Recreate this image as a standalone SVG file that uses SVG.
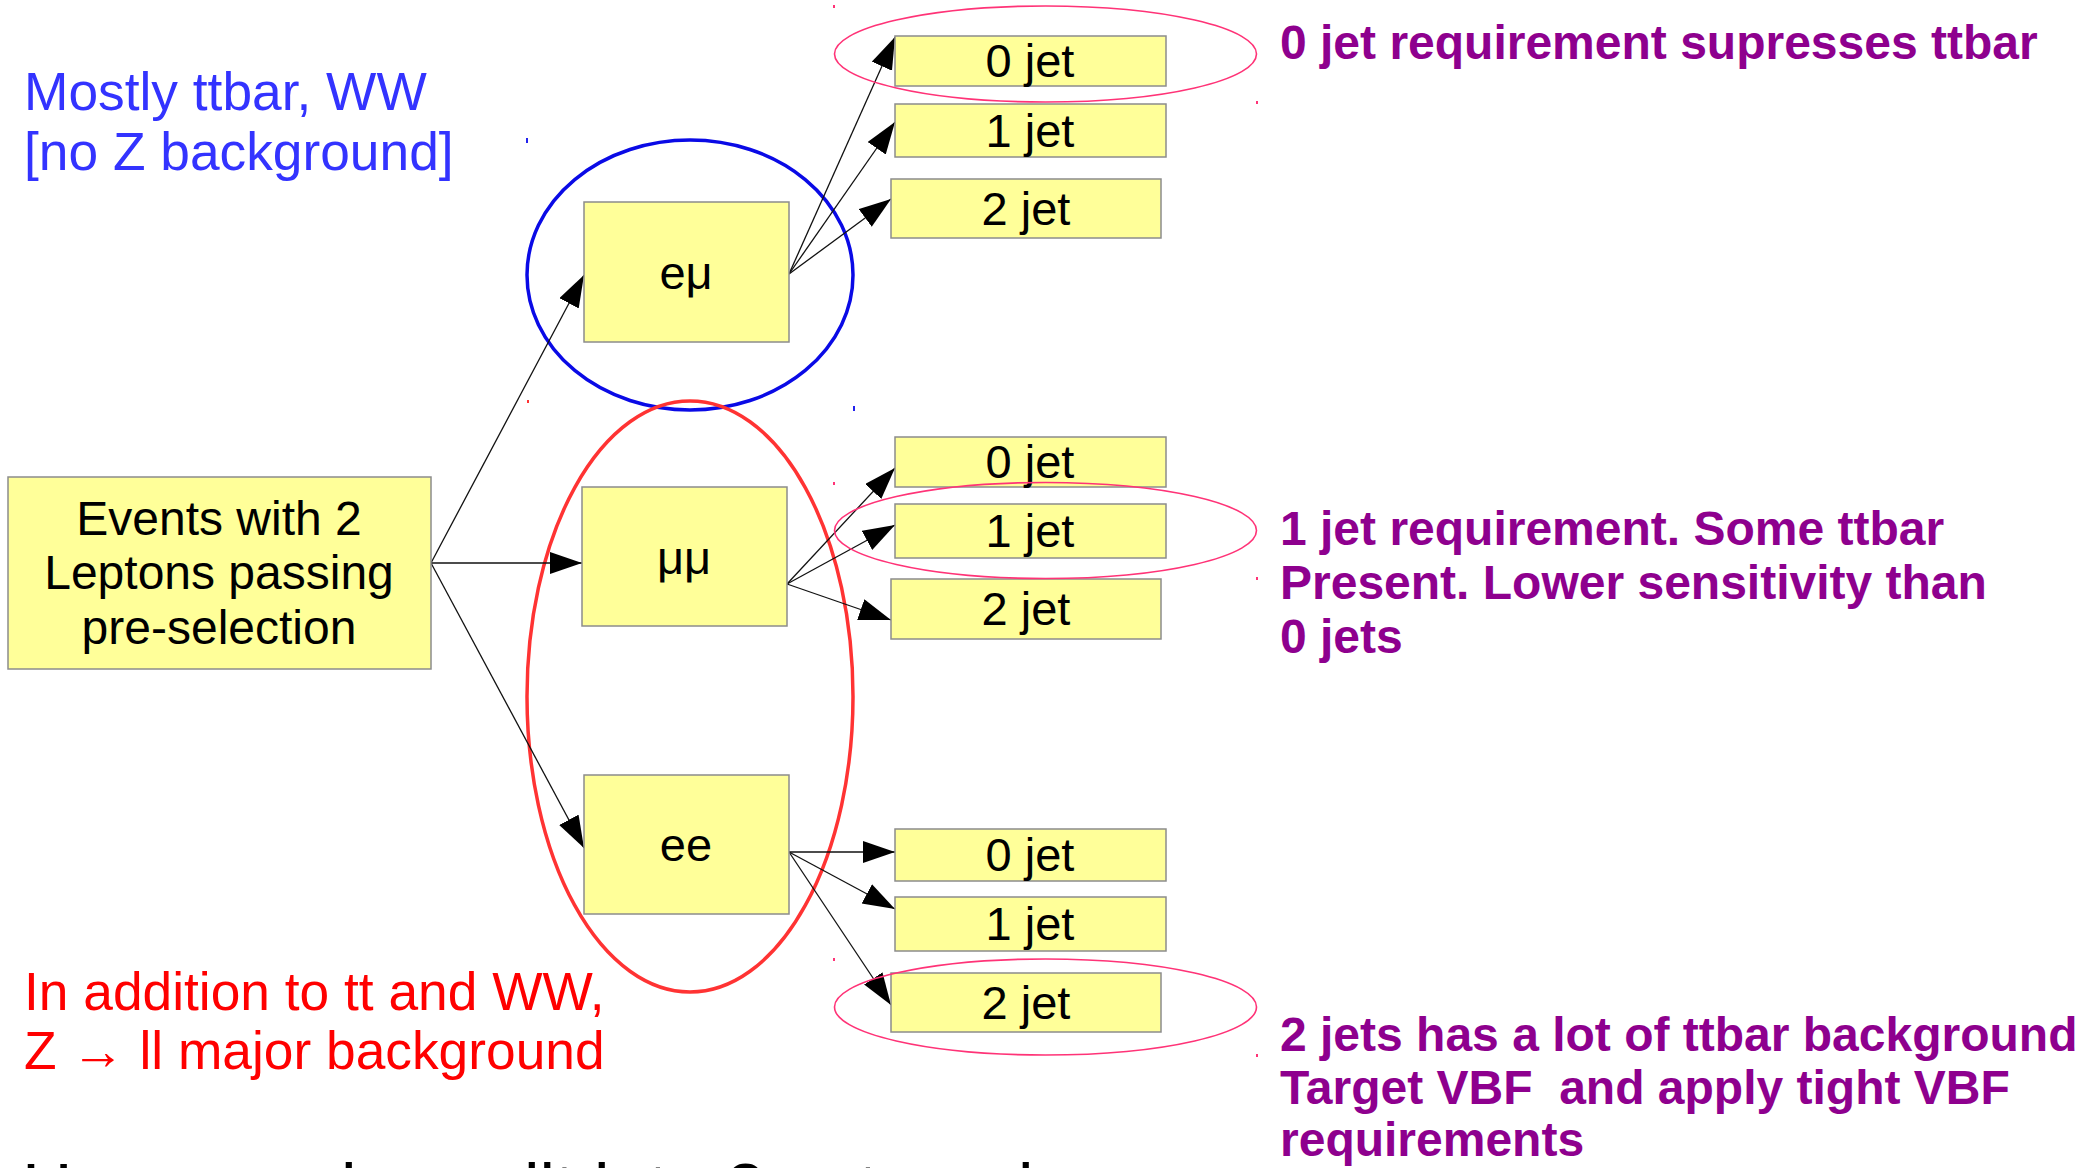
<svg xmlns="http://www.w3.org/2000/svg" width="2084" height="1168" viewBox="0 0 2084 1168">
  <defs>
    <marker id="arrow" markerUnits="userSpaceOnUse" markerWidth="34" markerHeight="24" refX="32" refY="11" orient="auto">
      <path d="M0,0 L32,11 L0,22 Z" fill="#000"/>
    </marker>
  </defs>
  <style>
    .box { fill: #ffff99; stroke: #8c8c8c; stroke-width: 1.5; }
    .lbl { font-family: "Liberation Sans", Arial, sans-serif; font-size: 47px; fill: #000; text-anchor: middle; }
    .big { font-size: 48px; }
    .edge { stroke: #111; stroke-width: 1.3; fill: none; marker-end: url(#arrow); }
    .note { font-family: "Liberation Sans", Arial, sans-serif; font-size: 53.3px; }
    .remark { font-family: "Liberation Sans", Arial, sans-serif; font-size: 48px; font-weight: bold; fill: #8e008e; }
    .ring { fill: none; stroke: #ff3377; stroke-width: 1.6; }
    .tick { stroke-width: 2; }
  </style>

  <rect width="2084" height="1168" fill="#fff"/>

  <!-- channel groupings -->
  <g id="groupings">
    <ellipse id="emu-ring" cx="690" cy="275" rx="163" ry="135" fill="none" stroke="#0a0ae6" stroke-width="3.5"/>
    <ellipse id="sameflavour-ring" cx="690" cy="696.5" rx="163" ry="295.5" fill="none" stroke="#ff3333" stroke-width="3.5"/>
    <line class="tick" x1="527" y1="138" x2="527" y2="143" stroke="#2222ee"/>
    <line class="tick" x1="854" y1="406" x2="854" y2="411" stroke="#2222ee"/>
    <line class="tick" x1="528" y1="400" x2="528" y2="403" stroke="#ff3333"/>
  </g>

  <!-- connectors -->
  <g id="connectors">
    <line class="edge" x1="431" y1="563" x2="584" y2="275"/>
    <line class="edge" x1="431" y1="563" x2="582" y2="563"/>
    <line class="edge" x1="431" y1="563" x2="584" y2="848"/>

    <line class="edge" x1="789" y1="274" x2="895" y2="37"/>
    <line class="edge" x1="789" y1="274" x2="895" y2="122"/>
    <line class="edge" x1="789" y1="274" x2="891" y2="199"/>

    <line class="edge" x1="787" y1="584" x2="895" y2="468"/>
    <line class="edge" x1="787" y1="584" x2="895" y2="525"/>
    <line class="edge" x1="787" y1="584" x2="891" y2="620"/>

    <line class="edge" x1="789" y1="852" x2="895" y2="852"/>
    <line class="edge" x1="789" y1="852" x2="895" y2="909"/>
    <line class="edge" x1="789" y1="852" x2="891" y2="1005"/>
  </g>

  <!-- nodes -->
  <g id="events">
    <rect class="box" x="8" y="477" width="423" height="192"/>
    <text class="lbl big" x="219" y="535">Events with 2</text>
    <text class="lbl big" x="219" y="589">Leptons passing</text>
    <text class="lbl big" x="219" y="644">pre-selection</text>
  </g>

  <g id="emu">
    <rect class="box" x="584" y="202" width="205" height="140"/>
    <text class="lbl" x="686" y="289">eμ</text>
  </g>
  <g id="mumu">
    <rect class="box" x="582" y="487" width="205" height="139"/>
    <text class="lbl" x="684" y="574">μμ</text>
  </g>
  <g id="ee">
    <rect class="box" x="584" y="775" width="205" height="139"/>
    <text class="lbl" x="686" y="861">ee</text>
  </g>

  <g id="emu-0jet">
    <rect class="box" x="895" y="36" width="271" height="50"/>
    <text class="lbl" x="1030" y="77">0 jet</text>
  </g>
  <g id="emu-1jet">
    <rect class="box" x="895" y="104" width="271" height="53"/>
    <text class="lbl" x="1030" y="147">1 jet</text>
  </g>
  <g id="emu-2jet">
    <rect class="box" x="891" y="179" width="270" height="59"/>
    <text class="lbl" x="1026" y="225">2 jet</text>
  </g>

  <g id="mumu-0jet">
    <rect class="box" x="895" y="437" width="271" height="50"/>
    <text class="lbl" x="1030" y="478">0 jet</text>
  </g>
  <g id="mumu-1jet">
    <rect class="box" x="895" y="504" width="271" height="54"/>
    <text class="lbl" x="1030" y="547">1 jet</text>
  </g>
  <g id="mumu-2jet">
    <rect class="box" x="891" y="579" width="270" height="60"/>
    <text class="lbl" x="1026" y="625">2 jet</text>
  </g>

  <g id="ee-0jet">
    <rect class="box" x="895" y="829" width="271" height="52"/>
    <text class="lbl" x="1030" y="871">0 jet</text>
  </g>
  <g id="ee-1jet">
    <rect class="box" x="895" y="897" width="271" height="54"/>
    <text class="lbl" x="1030" y="940">1 jet</text>
  </g>
  <g id="ee-2jet">
    <rect class="box" x="891" y="973" width="270" height="59"/>
    <text class="lbl" x="1026" y="1019">2 jet</text>
  </g>

  <!-- highlight rings around selected jet bins -->
  <g id="highlights">
    <ellipse class="ring" cx="1045.5" cy="54" rx="211" ry="48"/>
    <ellipse class="ring" cx="1045.5" cy="530.5" rx="211" ry="48"/>
    <ellipse class="ring" cx="1045.5" cy="1007" rx="211" ry="48"/>
    <line class="tick" x1="834" y1="5" x2="834" y2="8" stroke="#ff3377"/>
    <line class="tick" x1="1257" y1="101" x2="1257" y2="104" stroke="#ff3377"/>
    <line class="tick" x1="834" y1="482" x2="834" y2="485" stroke="#ff3377"/>
    <line class="tick" x1="1257" y1="577" x2="1257" y2="580" stroke="#ff3377"/>
    <line class="tick" x1="834" y1="958" x2="834" y2="961" stroke="#ff3377"/>
    <line class="tick" x1="1257" y1="1054" x2="1257" y2="1057" stroke="#ff3377"/>
  </g>

  <!-- annotations -->
  <g id="notes">
    <text class="note" x="24" y="110" fill="#3333ff">Mostly ttbar, WW</text>
    <text class="note" x="24" y="170" fill="#3333ff">[no Z background]</text>
    <text class="note" x="24" y="1010" fill="#ff0000">In addition to tt and WW,</text>
    <text class="note" x="24" y="1069" fill="#ff0000">Z → ll major background</text>

    <text class="remark" x="1280" y="59">0 jet requirement supresses ttbar</text>
    <text class="remark" x="1280" y="545">1 jet requirement. Some ttbar</text>
    <text class="remark" x="1280" y="599">Present. Lower sensitivity than</text>
    <text class="remark" x="1280" y="653">0 jets</text>
    <text class="remark" x="1280" y="1051">2 jets has a lot of ttbar background</text>
    <text class="remark" x="1280" y="1104">Target VBF&#160; and apply tight VBF</text>
    <text class="remark" x="1280" y="1156">requirements</text>

    <text x="22" y="1213" font-family="Liberation Sans, Arial, sans-serif" font-size="70" fill="#000">Here we also split into 3 categories</text>
  </g>
</svg>
